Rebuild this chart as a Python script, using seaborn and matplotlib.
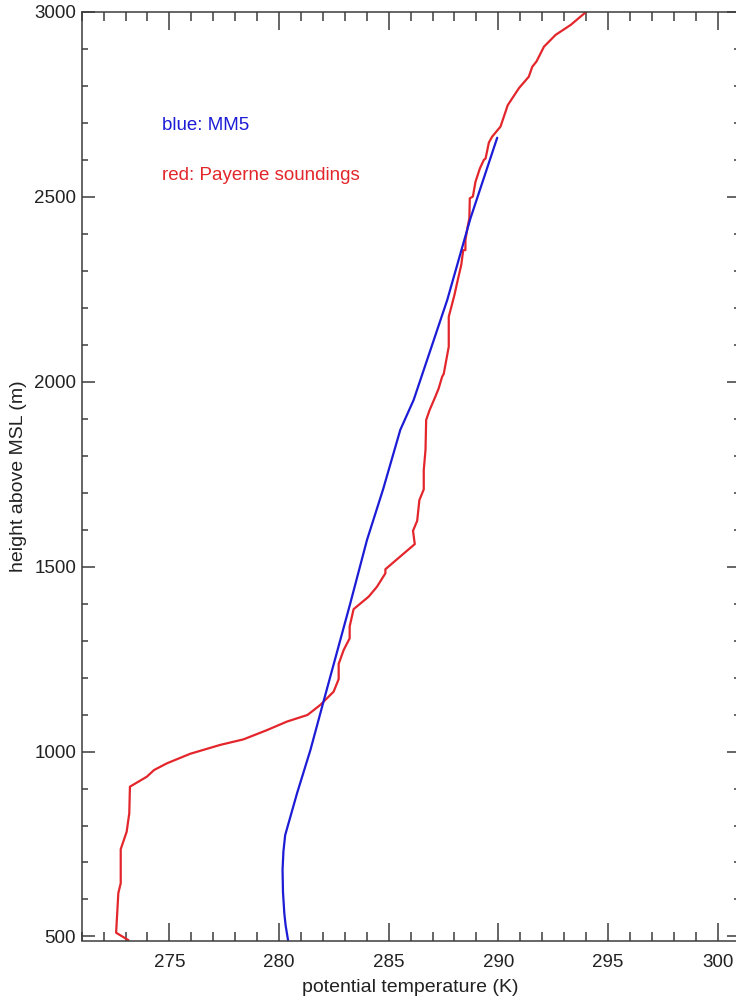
import matplotlib
matplotlib.use("Agg")
import matplotlib.pyplot as plt
import seaborn as sns
import pandas as pd
from matplotlib.ticker import MultipleLocator

# Payerne soundings (red)
red_theta = [273.13, 272.57, 272.67, 272.78, 272.78, 273.05, 273.17, 273.2, 273.97, 274.3, 274.88,
             275.95, 277.32, 278.38, 279.45, 280.36, 281.3, 281.88, 282.49, 282.72, 282.72, 282.95,
             283.22, 283.22, 283.4, 284.09, 284.47, 284.85, 284.85, 286.19, 286.11, 286.3, 286.4,
             286.6, 286.6, 286.68, 286.71, 286.87, 287.13, 287.28, 287.44, 287.51, 287.74, 287.74,
             287.9, 288.0, 288.15, 288.31, 288.4, 288.5, 288.5, 288.6, 288.68, 288.7, 288.84, 288.96,
             289.16, 289.34, 289.42, 289.57, 289.72, 290.1, 290.43, 290.94, 291.39, 291.55, 291.74,
             292.08, 292.61, 293.3, 294.0]
red_height = [490, 510, 617, 644, 736, 783, 833, 905, 932, 950, 968,
              994, 1018, 1033, 1058, 1081, 1099, 1126, 1162, 1196, 1237, 1275,
              1306, 1338, 1385, 1419, 1446, 1482, 1493, 1561, 1597, 1624, 1680,
              1709, 1761, 1816, 1897, 1924, 1960, 1982, 2014, 2021, 2095, 2176,
              2212, 2235, 2275, 2316, 2356, 2356, 2383, 2419, 2442, 2496, 2501, 2541,
              2577, 2600, 2604, 2647, 2663, 2690, 2748, 2794, 2825, 2852, 2866,
              2906, 2938, 2965, 3000]

# MM5 model (blue)
blue_theta = [280.41, 280.3, 280.24, 280.18, 280.16, 280.2, 280.28, 280.82, 281.43, 282.05,
              283.25, 284.01, 284.75, 285.53, 286.14, 287.67, 288.73, 289.95]
blue_height = [490, 530, 563, 620, 680, 730, 774, 887, 1004, 1140,
               1401, 1572, 1710, 1870, 1951, 2221, 2442, 2660]

x_ticks = [275, 280, 285, 290, 295, 300]
y_ticks = [500, 1000, 1500, 2000, 2500, 3000]

sns.set_theme(style="ticks")
plt.rcParams['font.family'] = ['Liberation Sans', 'DejaVu Sans']

RED = '#e3262b'
BLUE = '#1c1cd6'
AXC = '#3c3c3c'

fig = plt.figure(figsize=(7.36, 9.97), dpi=100)
ax = fig.add_axes([81.7 / 736, 1 - 940.5 / 997, (739.5 - 81.7) / 736, (940.5 - 12) / 997])

red_df = pd.DataFrame({'theta': red_theta, 'height': red_height})
blue_df = pd.DataFrame({'theta': blue_theta, 'height': blue_height})

sns.lineplot(data=red_df, x='theta', y='height', sort=False, estimator=None,
             color=RED, linewidth=1.6, ax=ax)
sns.lineplot(data=blue_df, x='theta', y='height', sort=False, estimator=None,
             color=BLUE, linewidth=1.6, ax=ax)

ax.set_xlim(271, 301)
ax.set_ylim(489, 3000)
ax.set_xticks(x_ticks)
ax.set_yticks(y_ticks)
ax.xaxis.set_minor_locator(MultipleLocator(1))
ax.yaxis.set_minor_locator(MultipleLocator(100))

ax.tick_params(axis='x', which='major', direction='in', length=13, width=1.1, color=AXC,
               top=True, bottom=True, labelsize=13.5, pad=10, labelcolor='#222222')
ax.tick_params(axis='x', which='minor', direction='in', length=6.5, width=1.1, color=AXC,
               top=True, bottom=True)
ax.tick_params(axis='y', which='major', direction='in', length=9.4, width=1.1, color=AXC,
               left=True, right=True, labelsize=13.5, pad=4, labelcolor='#222222')
ax.tick_params(axis='y', which='minor', direction='in', length=4.3, width=1.1, color=AXC,
               left=True, right=True)
for s in ax.spines.values():
    s.set_color(AXC)
    s.set_linewidth(1.1)

ax.set_xlabel('potential temperature (K)', fontsize=14, color='#222222')
ax.set_ylabel('height above MSL (m)', fontsize=14, color='#222222')
ax.xaxis.set_label_coords(0.5, -0.041)
ax.yaxis.set_label_coords(-0.083, 0.5)

ax.text(274.65, 2694, 'blue: MM5', color=BLUE, fontsize=13.5, ha='left', va='center')
ax.text(274.65, 2559, 'red: Payerne soundings', color=RED, fontsize=13.5, ha='left', va='center')

fig.savefig('out.png', dpi=100)
